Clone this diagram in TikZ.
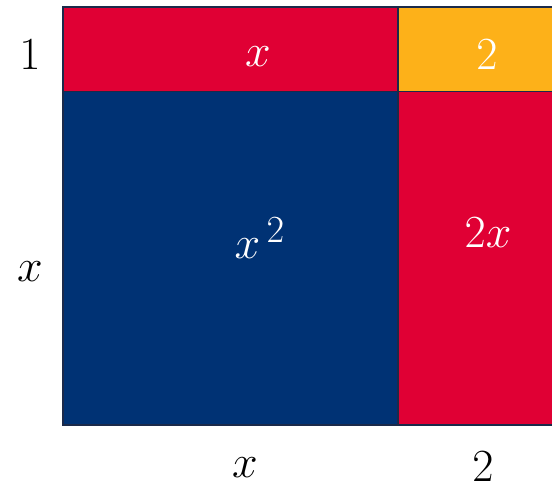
\documentclass[tikz,border=0pt]{standalone}
\usepackage{amsmath}
\definecolor{cred}{HTML}{E00034}
\definecolor{cnavy}{HTML}{003274}
\definecolor{corange}{HTML}{FDB119}
\definecolor{cborder}{HTML}{1B2A4A}
\begin{document}
\begin{tikzpicture}[x=1pt,y=-1pt,
  cell/.style={draw=cborder,line width=1.6pt},
  lbl/.style={font=\Huge,inner sep=0pt,scale=1.85,transform shape},
  wlbl/.style={lbl,text=white}]
\useasboundingbox (0,0) rectangle (552,490);
\clip (0,0) rectangle (552,490);
\fill[white] (0,0) rectangle (552,490);
\draw[cell,fill=cred] (63,7) rectangle (398,91.5);
\draw[cell,fill=corange] (398,7) rectangle (560,91.5);
\draw[cell,fill=cnavy] (63,91.5) rectangle (398,425);
\draw[cell,fill=cred] (398,91.5) rectangle (560,425);
\node[wlbl] (tx) at (258,57) {$x$};
\node[wlbl] (t2) at (487,55) {$2$};
\node[wlbl] (x2) at (260,238) {$x^{\,2}$};
\node[wlbl] (twox) at (488,233) {$2x$};
\node[lbl] (one) at (30,55) {$1$};
\node[lbl] (lx) at (30,272) {$x$};
\node[lbl] (bx) at (245,468) {$x$};
\node[lbl] (b2) at (483,467) {$2$};
\end{tikzpicture}
\end{document}
